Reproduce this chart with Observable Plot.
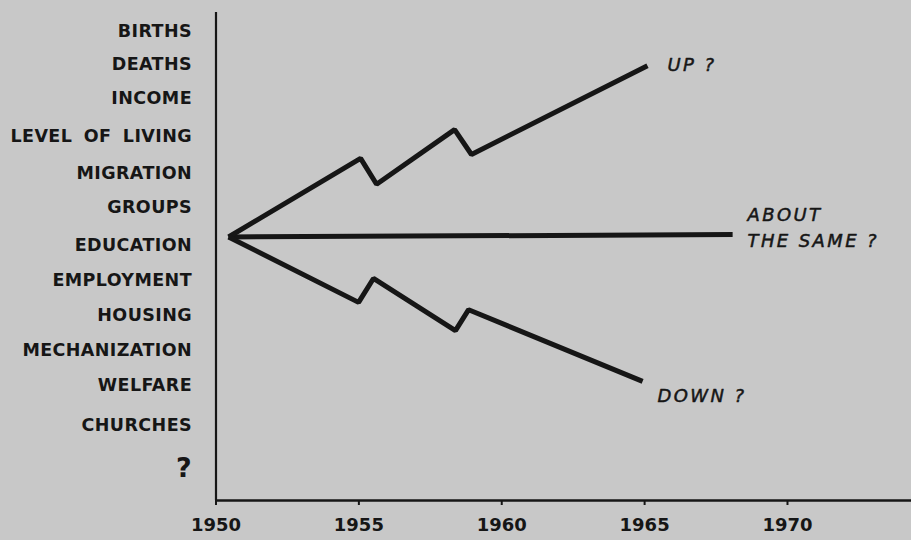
<!DOCTYPE html>
<html>
<head>
<meta charset="utf-8">
<script src="https://cdn.jsdelivr.net/npm/d3@7"></script>
<script src="https://cdn.jsdelivr.net/npm/@observablehq/plot@0.6"></script>
<style>
  html, body { margin: 0; padding: 0; background: #c8c8c8; }
  #chart { width: 911px; height: 540px; overflow: hidden; }
  g[font-style="italic"] text { letter-spacing: 2.4px; }
  g.rowlabels text { letter-spacing: 0.4px; word-spacing: 5px; }
</style>
</head>
<body>
<div id="chart"></div>
<script>
// Row labels on the left (topics), with their vertical level in chart units
const categories = ["BIRTHS", "DEATHS", "INCOME", "LEVEL OF LIVING", "MIGRATION", "GROUPS",
  "EDUCATION", "EMPLOYMENT", "HOUSING", "MECHANIZATION", "WELFARE", "CHURCHES", "?"];
const categoryLevels = [42.2, 35.3, 28.5, 20.7, 13.1, 6.1, -1.8, -8.8, -16.0, -23.3, -30.5, -38.7, -47.4];

// x axis ticks
const yearTicks = [1950, 1955, 1960, 1965, 1970];

// Trend lines
const upYears = [1950.44, 1955.06, 1955.62, 1958.35, 1958.94, 1965.10];
const upValues = [0, 16.1, 10.8, 22.0, 16.9, 35.1];
const sameYears = [1950.44, 1968.08];
const sameValues = [0, 0.5];
const downYears = [1950.44, 1954.99, 1955.51, 1958.38, 1958.84, 1964.93];
const downValues = [0, -13.4, -8.5, -19.2, -14.9, -29.6];

// Outcome annotations
const outcomeLabels = ["UP ?", "ABOUT\nTHE SAME ?", "DOWN ?"];
const outcomeYears = [1965.8, 1968.6, 1965.45];
const outcomeValues = [35.8, 2.4, -32.1];

const toPts = (xs, ys) => xs.map((x, i) => ({x, y: ys[i]}));
const ink = "#161616";
const font = "'DejaVu Sans', sans-serif";

const chart = Plot.plot({
  width: 911,
  height: 540,
  marginLeft: 215.5,
  marginRight: 0,
  marginTop: 12,
  marginBottom: 40,
  style: {background: "#c8c8c8", fontFamily: font, color: ink},
  x: {domain: [1950, 1974.34], label: null},
  y: {domain: [-54, 46], axis: null},
  marks: [
    Plot.axisX(yearTicks, {
      label: null,
      tickSize: 5, tickPadding: 13, tickFormat: d => String(d),
      fontSize: 18, fontWeight: "bold", stroke: ink, strokeWidth: 2, fill: ink
    }),
    Plot.ruleX([1950], {y1: -54, y2: 46, stroke: ink, strokeWidth: 2.2}),
    Plot.ruleY([-54], {stroke: ink, strokeWidth: 2.6}),
    Plot.text(categories, {
      x: () => 1950, y: (d, i) => categoryLevels[i], text: d => d,
      textAnchor: "end", dx: -24, fill: ink, fontWeight: "bold",
      fontSize: d => d === "?" ? 27 : 17.5,
      className: "rowlabels"
    }),
    Plot.line(toPts(sameYears, sameValues), {x: "x", y: "y", stroke: ink, strokeWidth: 5, strokeLinecap: "butt"}),
    Plot.line(toPts(upYears, upValues), {x: "x", y: "y", stroke: ink, strokeWidth: 5, strokeLinejoin: "miter", strokeLinecap: "butt"}),
    Plot.line(toPts(downYears, downValues), {x: "x", y: "y", stroke: ink, strokeWidth: 5, strokeLinejoin: "miter", strokeLinecap: "butt"}),
    Plot.text(outcomeLabels, {
      x: (d, i) => outcomeYears[i], y: (d, i) => outcomeValues[i], text: d => d,
      textAnchor: "start", fill: ink, fontSize: 18, fontStyle: "italic",
      stroke: ink, strokeWidth: 0.5,
      lineHeight: 1.45
    })
  ]
});
document.getElementById("chart").appendChild(chart);
</script>
</body>
</html>
